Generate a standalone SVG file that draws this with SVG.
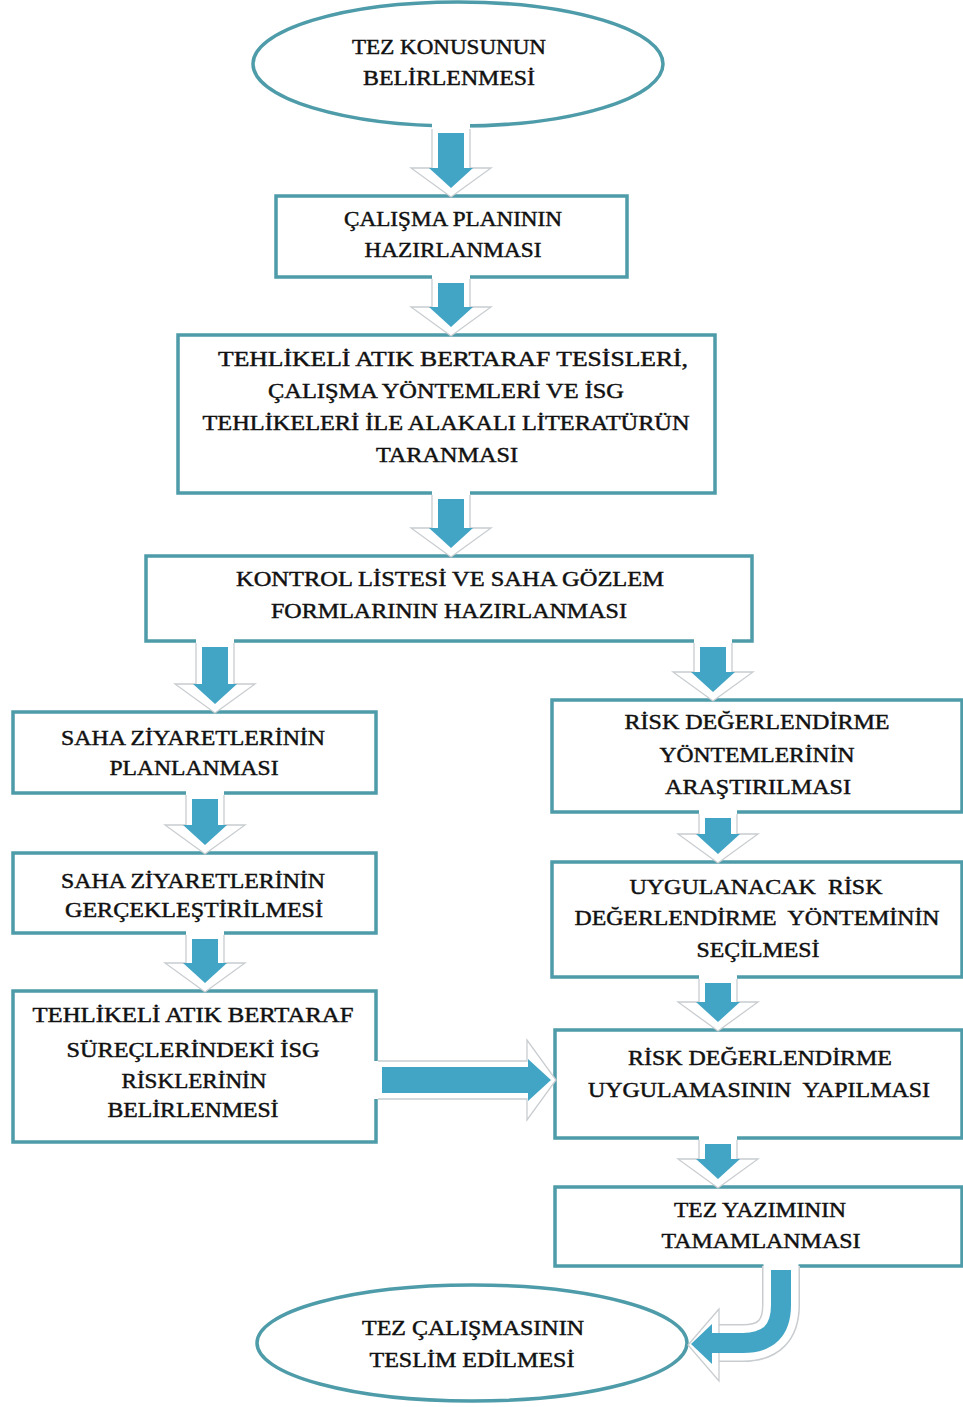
<svg xmlns="http://www.w3.org/2000/svg" width="963" height="1407" viewBox="0 0 963 1407">
<style>
.box{fill:#fff;stroke:#4E9CA9;stroke-width:3.5}
.t{font-family:"Liberation Serif","Times New Roman",serif;font-size:21px;fill:#111;stroke:#111;stroke-width:0.45;text-anchor:middle}
.ao{fill:#fff;stroke:none}
.al{fill:none;stroke:#c9cdd0;stroke-width:1.3;stroke-linejoin:miter}
.ai{fill:#43A5C5;stroke:none}
</style>
<rect x="0" y="0" width="963" height="1407" fill="#fff"/>
<g id="nodes">
<g id="n-start">
<ellipse class="box" cx="458" cy="64" rx="205" ry="62"/>
<text class="t" x="449" y="54" textLength="194" lengthAdjust="spacingAndGlyphs">TEZ KONUSUNUN</text>
<text class="t" x="449" y="85" textLength="172" lengthAdjust="spacingAndGlyphs">BELİRLENMESİ</text>
</g>
<g id="n-plan">
<rect class="box" x="276" y="196" width="351" height="81"/>
<text class="t" x="453" y="226" textLength="218" lengthAdjust="spacingAndGlyphs">ÇALIŞMA PLANININ</text>
<text class="t" x="453" y="257" textLength="177" lengthAdjust="spacingAndGlyphs">HAZIRLANMASI</text>
</g>
<g id="n-literatur">
<rect class="box" x="178" y="335" width="537" height="158"/>
<text class="t" x="453" y="366" textLength="470" lengthAdjust="spacingAndGlyphs">TEHLİKELİ ATIK BERTARAF TESİSLERİ,</text>
<text class="t" x="446" y="398" textLength="356" lengthAdjust="spacingAndGlyphs">ÇALIŞMA YÖNTEMLERİ VE İSG</text>
<text class="t" x="446" y="430" textLength="487" lengthAdjust="spacingAndGlyphs">TEHLİKELERİ İLE ALAKALI LİTERATÜRÜN</text>
<text class="t" x="447" y="462" textLength="142" lengthAdjust="spacingAndGlyphs">TARANMASI</text>
</g>
<g id="n-kontrol">
<rect class="box" x="146" y="556" width="606" height="85"/>
<text class="t" x="450" y="586" textLength="428" lengthAdjust="spacingAndGlyphs">KONTROL LİSTESİ VE SAHA GÖZLEM</text>
<text class="t" x="449" y="618" textLength="356" lengthAdjust="spacingAndGlyphs">FORMLARININ HAZIRLANMASI</text>
</g>
<g id="n-saha-plan">
<rect class="box" x="13" y="712" width="363" height="81"/>
<text class="t" x="193" y="745" textLength="264" lengthAdjust="spacingAndGlyphs">SAHA ZİYARETLERİNİN</text>
<text class="t" x="194" y="775" textLength="169" lengthAdjust="spacingAndGlyphs">PLANLANMASI</text>
</g>
<g id="n-saha-gercek">
<rect class="box" x="13" y="853" width="363" height="80"/>
<text class="t" x="193" y="888" textLength="264" lengthAdjust="spacingAndGlyphs">SAHA ZİYARETLERİNİN</text>
<text class="t" x="194" y="917" textLength="258" lengthAdjust="spacingAndGlyphs">GERÇEKLEŞTİRİLMESİ</text>
</g>
<g id="n-riskler">
<rect class="box" x="13" y="991" width="363" height="151"/>
<text class="t" x="193" y="1022" textLength="321" lengthAdjust="spacingAndGlyphs">TEHLİKELİ ATIK BERTARAF</text>
<text class="t" x="193" y="1057" textLength="253" lengthAdjust="spacingAndGlyphs">SÜREÇLERİNDEKİ İSG</text>
<text class="t" x="194" y="1088" textLength="145" lengthAdjust="spacingAndGlyphs">RİSKLERİNİN</text>
<text class="t" x="193" y="1117" textLength="171" lengthAdjust="spacingAndGlyphs">BELİRLENMESİ</text>
</g>
<g id="n-yontem-arastirma">
<rect class="box" x="552" y="700" width="410" height="112"/>
<text class="t" x="757" y="729" textLength="265" lengthAdjust="spacingAndGlyphs">RİSK DEĞERLENDİRME</text>
<text class="t" x="757" y="762" textLength="195" lengthAdjust="spacingAndGlyphs">YÖNTEMLERİNİN</text>
<text class="t" x="758" y="794" textLength="186" lengthAdjust="spacingAndGlyphs">ARAŞTIRILMASI</text>
</g>
<g id="n-yontem-secim">
<rect class="box" x="552" y="862" width="410" height="115"/>
<text class="t" x="756" y="894" textLength="253" lengthAdjust="spacingAndGlyphs" xml:space="preserve">UYGULANACAK  RİSK</text>
<text class="t" x="757" y="925" textLength="365" lengthAdjust="spacingAndGlyphs" xml:space="preserve">DEĞERLENDİRME  YÖNTEMİNİN</text>
<text class="t" x="758" y="957" textLength="123" lengthAdjust="spacingAndGlyphs">SEÇİLMESİ</text>
</g>
<g id="n-uygulama">
<rect class="box" x="555" y="1030" width="407" height="108"/>
<text class="t" x="760" y="1065" textLength="264" lengthAdjust="spacingAndGlyphs">RİSK DEĞERLENDİRME</text>
<text class="t" x="759" y="1097" textLength="342" lengthAdjust="spacingAndGlyphs" xml:space="preserve">UYGULAMASININ  YAPILMASI</text>
</g>
<g id="n-yazim">
<rect class="box" x="555" y="1187" width="407" height="79"/>
<text class="t" x="760" y="1217" textLength="172" lengthAdjust="spacingAndGlyphs">TEZ YAZIMININ</text>
<text class="t" x="761" y="1248" textLength="199" lengthAdjust="spacingAndGlyphs">TAMAMLANMASI</text>
</g>
<g id="n-end">
<ellipse class="box" cx="472" cy="1343" rx="215" ry="58"/>
<text class="t" x="473" y="1335" textLength="222" lengthAdjust="spacingAndGlyphs">TEZ ÇALIŞMASININ</text>
<text class="t" x="472" y="1367" textLength="205" lengthAdjust="spacingAndGlyphs">TESLİM EDİLMESİ</text>
</g>
</g>
<g id="connectors">
<g id="a1">
<polygon class="ao" points="432,123 470,123 470,168 491,168 451,197 411,168 432,168"/>
<polyline class="al" points="432,129 432,168 411,168 451,197 491,168 470,168 470,129"/>
<polygon class="ai" points="438,133 464,133 464,168 473,168 451,188 429,168 438,168"/>
</g>
<g id="a2">
<polygon class="ao" points="432,273 470,273 470,307 491,307 451,336 411,307 432,307"/>
<polyline class="al" points="432,279 432,307 411,307 451,336 491,307 470,307 470,279"/>
<polygon class="ai" points="438,283 464,283 464,307 473,307 451,327 429,307 438,307"/>
</g>
<g id="a3">
<polygon class="ao" points="432,489 470,489 470,528 491,528 451,557 411,528 432,528"/>
<polyline class="al" points="432,495 432,528 411,528 451,557 491,528 470,528 470,495"/>
<polygon class="ai" points="438,499 464,499 464,528 473,528 451,548 429,528 438,528"/>
</g>
<g id="a4l">
<polygon class="ao" points="196,637 234,637 234,684 255,684 215,713 175,684 196,684"/>
<polyline class="al" points="196,643 196,684 175,684 215,713 255,684 234,684 234,643"/>
<polygon class="ai" points="202,647 228,647 228,684 237,684 215,704 193,684 202,684"/>
</g>
<g id="a4r">
<polygon class="ao" points="694,637 732,637 732,672 753,672 713,701 673,672 694,672"/>
<polyline class="al" points="694,643 694,672 673,672 713,701 753,672 732,672 732,643"/>
<polygon class="ai" points="700,647 726,647 726,672 735,672 713,692 691,672 700,672"/>
</g>
<g id="al2">
<polygon class="ao" points="186,789 224,789 224,825 245,825 205,854 165,825 186,825"/>
<polyline class="al" points="186,795 186,825 165,825 205,854 245,825 224,825 224,795"/>
<polygon class="ai" points="192,799 218,799 218,825 227,825 205,845 183,825 192,825"/>
</g>
<g id="al3">
<polygon class="ao" points="186,929 224,929 224,963 245,963 205,992 165,963 186,963"/>
<polyline class="al" points="186,935 186,963 165,963 205,992 245,963 224,963 224,935"/>
<polygon class="ai" points="192,939 218,939 218,963 227,963 205,983 183,963 192,963"/>
</g>
<g id="ar2">
<polygon class="ao" points="699,808 737,808 737,834 758,834 718,863 678,834 699,834"/>
<polyline class="al" points="699,814 699,834 678,834 718,863 758,834 737,834 737,814"/>
<polygon class="ai" points="705,818 731,818 731,834 740,834 718,854 696,834 705,834"/>
</g>
<g id="ar3">
<polygon class="ao" points="699,973 737,973 737,1002 758,1002 718,1031 678,1002 699,1002"/>
<polyline class="al" points="699,979 699,1002 678,1002 718,1031 758,1002 737,1002 737,979"/>
<polygon class="ai" points="705,983 731,983 731,1002 740,1002 718,1022 696,1002 705,1002"/>
</g>
<g id="ar4">
<polygon class="ao" points="699,1134 737,1134 737,1159 758,1159 718,1188 678,1159 699,1159"/>
<polyline class="al" points="699,1140 699,1159 678,1159 718,1188 758,1159 737,1159 737,1140"/>
<polygon class="ai" points="705,1144 731,1144 731,1159 740,1159 718,1179 696,1159 705,1159"/>
</g>
<g id="ah">
<polygon class="ao" points="372,1061 372,1099 527,1099 527,1120 556,1080 527,1040 527,1061"/>
<polyline class="al" points="378,1061 527,1061 527,1040 556,1080 527,1120 527,1099 378,1099"/>
<polygon class="ai" points="382,1067 382,1093 528,1093 528,1101 551,1080 528,1059 528,1067"/>
</g>
<g id="ac">
<path d="M781 1266 V1305 Q781 1343 743 1343 H716" fill="none" stroke="#c9cdd0" stroke-width="38"/>
<path d="M781 1261 V1305 Q781 1343 743 1343 H716" fill="none" stroke="#fff" stroke-width="35"/>
<polygon points="719,1309 688,1345 719,1381" fill="#fff" stroke="#c9cdd0" stroke-width="1.3"/>
<path d="M781 1270 V1305 Q781 1343 743 1343 H708" fill="none" stroke="#43A5C5" stroke-width="20"/>
<polygon class="ai" points="712,1324 691,1344 712,1364"/>
</g>
</g>
</svg>
